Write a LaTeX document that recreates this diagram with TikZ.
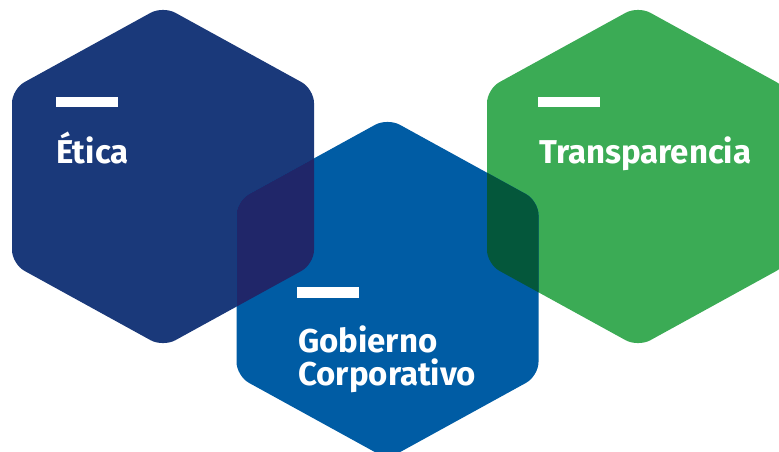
\documentclass[tikz,border=0pt]{standalone}
\usepackage{fontspec}
\setmainfont{Fira Sans}
\definecolor{eticablue}{RGB}{26,57,122}
\definecolor{gobblue}{RGB}{0,92,164}
\definecolor{transgreen}{RGB}{59,171,85}
\definecolor{ovblue}{RGB}{32,38,105}
\definecolor{ovgreen}{RGB}{4,87,59}
\newcommand{\hexat}[2]{(#1,#2-170.5) -- (#1+151,#2-87.5) -- (#1+151,#2+87.5) -- (#1,#2+170.5) -- (#1-151,#2+87.5) -- (#1-151,#2-87.5) -- cycle}
\tikzset{
  hexfill/.style={rounded corners=14pt},
  barstyle/.style={fill=white, draw=none},
  label/.style={text=white, font=\fontsize{33}{33}\selectfont\bfseries, anchor=base west, inner sep=0pt, align=left}
}
\begin{document}
\begin{tikzpicture}[x=1pt,y=-1pt]
\useasboundingbox (0,0) rectangle (779,451);
\begin{scope}
\clip (0,0) rectangle (779,451);
\fill[eticablue, hexfill] \hexat{163}{176.5};
\fill[transgreen, hexfill] \hexat{638}{176.5};
\fill[gobblue, hexfill] \hexat{387.5}{288.5};
\begin{scope}
\clip[hexfill] \hexat{163}{176.5};
\fill[ovblue, hexfill] \hexat{387.5}{288.5};
\end{scope}
\begin{scope}
\clip[hexfill] \hexat{638}{176.5};
\fill[ovgreen, hexfill] \hexat{387.5}{288.5};
\end{scope}
\end{scope}
\fill[barstyle] (56,97) rectangle (118,107);
\fill[barstyle] (538,97) rectangle (600,107);
\fill[barstyle] (297,287) rectangle (359,298);
\node[label] (etica) at (56,163) {Ética};
\node[label] (trans) at (539,163) {Transparencia};
\node[label] (gob) at (298,352) {Gobierno};
\node[label] (corp) at (298,385) {Corporativo};
\end{tikzpicture}
\end{document}
